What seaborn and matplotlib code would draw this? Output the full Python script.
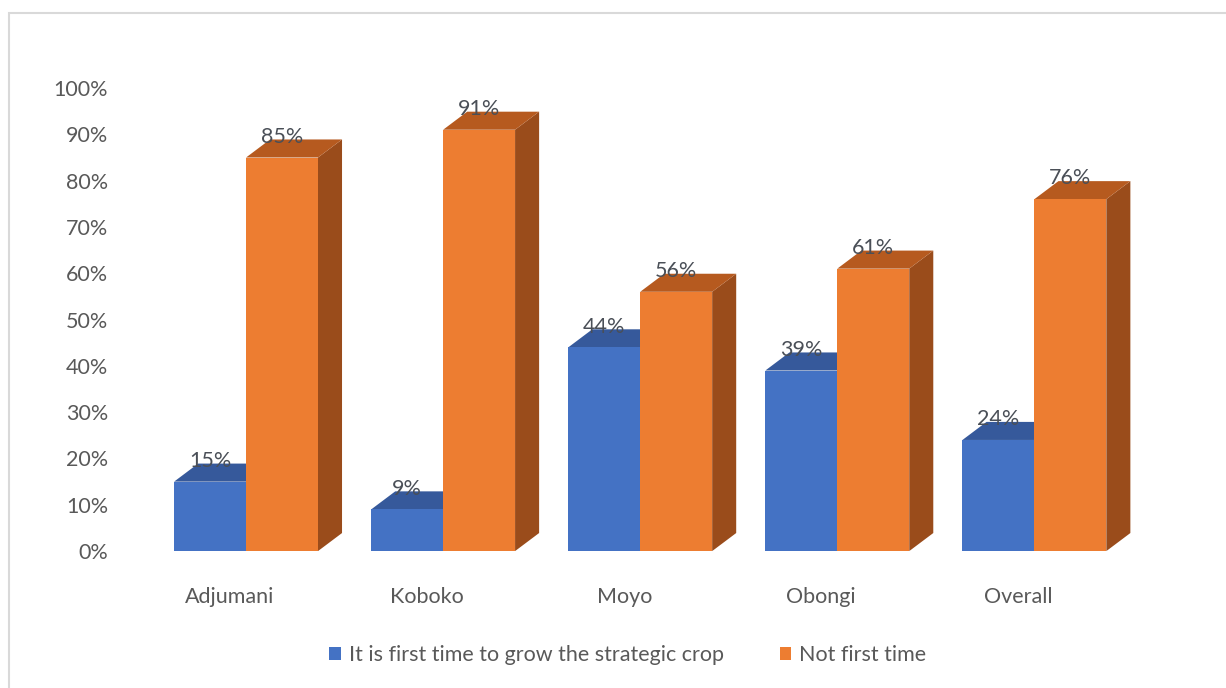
import matplotlib
matplotlib.use("Agg")
import matplotlib.pyplot as plt
import matplotlib.transforms as mtransforms
from matplotlib.patches import Polygon, Rectangle, Patch
import seaborn as sns
import pandas as pd

districts = ['Adjumani', 'Koboko', 'Moyo', 'Obongi', 'Overall']
series = ['It is first time to grow the strategic crop', 'Not first time']
first_time = [0.15, 0.09, 0.44, 0.39, 0.24]
not_first = [0.85, 0.91, 0.56, 0.61, 0.76]
ytick_vals = [0, 0.1, 0.2, 0.3, 0.4, 0.5, 0.6, 0.7, 0.8, 0.9, 1.0]

front_cols = ['#4472C4', '#ED7D31']
top_cols = ['#36599b', '#b65a1f']
side_cols = ['#2f4f8a', '#9a4c1b']

df = pd.DataFrame({
    'District': districts * 2,
    'Group': [series[0]] * 5 + [series[1]] * 5,
    'Share': first_time + not_first,
})

sns.set_style('white')
plt.rcParams['font.family'] = ['Lato', 'DejaVu Sans']
fs = 15.5

fig = plt.figure(figsize=(12.26, 6.88), dpi=100)
ax = fig.add_axes([0.0962, 0.199, 0.852, 0.673])

sns.barplot(data=df, x='District', y='Share', hue='Group', hue_order=series,
            palette=front_cols, width=0.73, gap=0, saturation=1, ax=ax,
            legend=False, edgecolor='none', linewidth=0)

# fake 3-D depth: top and side faces derived from each bar
dx, dy = 0.122, 0.039
for k, cont in enumerate(ax.containers):
    for bar in cont:
        x0 = bar.get_x()
        w = bar.get_width()
        h = bar.get_height()
        x1 = x0 + w
        bar.set_zorder(3 + 3 * k)
        top = Polygon([(x0, h), (x1, h), (x1 + dx, h + dy), (x0 + dx, h + dy)],
                      closed=True, facecolor=top_cols[k], edgecolor='none',
                      zorder=2 + 3 * k)
        side = Polygon([(x1, 0), (x1 + dx, dy), (x1 + dx, h + dy), (x1, h)],
                       closed=True, facecolor=side_cols[k], edgecolor='none',
                       zorder=1 + 3 * k)
        ax.add_patch(top)
        ax.add_patch(side)
        ax.text(x0 + w / 2, h + dy + 0.006, f"{h:.0%}", ha='center', va='center',
                fontsize=fs, color='#4a4f57', zorder=10, clip_on=False)

ax.set_xlim(-0.65, 4.65)
ax.set_ylim(0, 1.0)
ax.set_yticks(ytick_vals)
ax.set_yticklabels([f"{int(round(v * 100))}%" for v in ytick_vals])
ax.tick_params(axis='y', length=0, pad=7, labelsize=fs, labelcolor='#595959')
ax.tick_params(axis='x', length=0, pad=26, labelsize=fs, labelcolor='#595959')
shift = mtransforms.ScaledTranslation(-16 / 100, 0, fig.dpi_scale_trans)
for lab in ax.get_xticklabels():
    lab.set_transform(lab.get_transform() + shift)
ax.set_xlabel('')
ax.set_ylabel('')
sns.despine(ax=ax, left=True, bottom=True)

handles = [Patch(facecolor=c, edgecolor='none') for c in front_cols]
fig.legend(handles, series, loc='center', bbox_to_anchor=(0.512, 0.048), ncol=2,
           frameon=False, fontsize=fs, labelcolor='#595959',
           handlelength=0.55, handleheight=0.55, handletextpad=0.35, columnspacing=2.6)

# chart frame
fig.patches.append(Rectangle((9 / 1226, -0.01), 1.0, (688 - 13) / 688 + 0.01,
                             transform=fig.transFigure, fill=False,
                             edgecolor='#d9d9d9', linewidth=1.5))

fig.savefig('out.png', dpi=100)
